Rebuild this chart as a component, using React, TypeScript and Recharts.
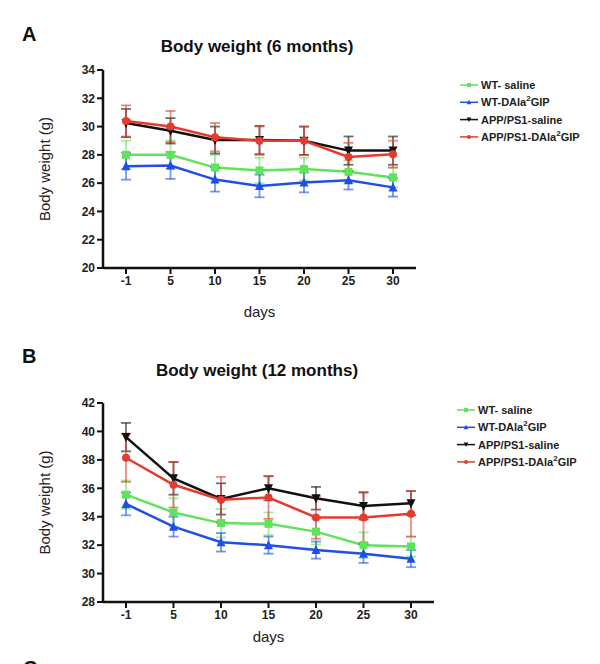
import { LineChart, Line, XAxis, YAxis, ErrorBar } from "recharts";

const days = ["-1", "5", "10", "15", "20", "25", "30"];

// 6 months
const wtSaline6 = [28.0, 28.0, 27.1, 26.9, 27.0, 26.8, 26.4];
const wtSaline6Err = [1.0, 1.0, 0.9, 0.9, 0.8, 0.8, 0.7];
const wtDala6 = [27.2, 27.25, 26.25, 25.8, 26.05, 26.2, 25.7];
const wtDala6Err = [0.95, 0.95, 0.85, 0.8, 0.7, 0.65, 0.65];
const appSaline6 = [30.25, 29.7, 29.05, 29.05, 29.0, 28.3, 28.3];
const appSaline6Err = [1.0, 0.9, 0.95, 1.0, 1.0, 1.0, 1.0];
const appDala6 = [30.4, 30.0, 29.25, 29.0, 29.0, 27.85, 28.05];
const appDala6Err = [1.1, 1.1, 1.0, 1.0, 1.0, 1.0, 0.95];

// 12 months
const wtSaline12 = [35.55, 34.3, 33.55, 33.5, 32.95, 32.0, 31.9];
const wtSaline12Err = [1.0, 1.0, 1.0, 0.8, 0.9, 0.9, 0.7];
const wtDala12 = [34.9, 33.3, 32.2, 32.0, 31.65, 31.4, 31.05];
const wtDala12Err = [0.8, 0.7, 0.65, 0.6, 0.6, 0.65, 0.6];
const appSaline12 = [39.6, 36.7, 35.25, 36.0, 35.3, 34.75, 34.95];
const appSaline12Err = [1.0, 1.15, 1.1, 0.85, 0.8, 0.95, 0.85];
const appDala12 = [38.15, 36.25, 35.2, 35.35, 33.95, 33.95, 34.2];
const appDala12Err = [1.7, 1.6, 1.6, 1.5, 1.5, 1.8, 1.6];

const ticks6 = [20, 22, 24, 26, 28, 30, 32, 34];
const ticks12 = [28, 30, 32, 34, 36, 38, 40, 42];

const FONT = "'Liberation Sans', Arial, sans-serif";

const series = [
  { key: "wtSaline", name: "WT- saline", color: "#5ee35a", shape: "square" },
  { key: "wtDala", name: "WT-DAla", sup: "2", after: "GIP", color: "#1f4fe6", shape: "tri" },
  { key: "appSaline", name: "APP/PS1-saline", color: "#111111", shape: "triDown" },
  { key: "appDala", name: "APP/PS1-DAla", sup: "2", after: "GIP", color: "#e53a2e", shape: "circle" },
];

const build = (a: number[], ae: number[], b: number[], be: number[], c: number[], ce: number[], d: number[], de: number[]) =>
  days.map((day, i) => ({
    day,
    wtSaline: a[i], wtSalineErr: ae[i],
    wtDala: b[i], wtDalaErr: be[i],
    appSaline: c[i], appSalineErr: ce[i],
    appDala: d[i], appDalaErr: de[i],
  }));

const data6 = build(wtSaline6, wtSaline6Err, wtDala6, wtDala6Err, appSaline6, appSaline6Err, appDala6, appDala6Err);
const data12 = build(wtSaline12, wtSaline12Err, wtDala12, wtDala12Err, appSaline12, appSaline12Err, appDala12, appDala12Err);

const Marker = ({ cx, cy, shape, color, s = 1 }: any) => {
  if (cx == null || cy == null) return null;
  if (shape === "square") return <rect x={cx - 4 * s} y={cy - 4 * s} width={8 * s} height={8 * s} fill={color} />;
  if (shape === "tri")
    return <polygon points={`${cx},${cy - 5 * s} ${cx - 4.5 * s},${cy + 4 * s} ${cx + 4.5 * s},${cy + 4 * s}`} fill={color} />;
  if (shape === "triDown")
    return <polygon points={`${cx},${cy + 5 * s} ${cx - 4.5 * s},${cy - 4 * s} ${cx + 4.5 * s},${cy - 4 * s}`} fill={color} />;
  return <circle cx={cx} cy={cy} r={4 * s} fill={color} />;
};

const YLabel = ({ viewBox }: any) => {
  const x = viewBox.x - 19;
  const y = viewBox.y + viewBox.height / 2;
  return (
    <text x={x} y={y} transform={`rotate(-90 ${x} ${y})`} textAnchor="middle" dominantBaseline="central"
      fontSize={15} fontFamily={FONT} fill="#222">
      Body weight (g)
    </text>
  );
};

const Legend = ({ left, top }: { left: number; top: number }) => (
  <svg width={150} height={72} style={{ position: "absolute", left, top }}>
    {series.map((s, i) => {
      const y = 8 + i * 17.3;
      return (
        <g key={s.key}>
          <line x1={2} x2={20} y1={y} y2={y} stroke={s.color} strokeWidth={1.5} />
          <Marker cx={11} cy={y} shape={s.shape} color={s.color} s={0.5} />
          <text x={23} y={y} dominantBaseline="central" fontSize={11} fontWeight="bold" fontFamily={FONT} fill="#222">
            {s.name}
            {s.sup && <tspan fontSize={8} dy={-4}>{s.sup}</tspan>}
            {s.after && <tspan dy={4}>{s.after}</tspan>}
          </text>
        </g>
      );
    })}
  </svg>
);

const Panel = ({ data, ticks, top, width, right, marginTop, height, pad, labelOffset }: any) => (
  <div style={{ position: "absolute", left: 0, top }}>
    <LineChart width={width} height={height} data={data}
      margin={{ top: marginTop, right, left: 63, bottom: 32 }}>
      <XAxis dataKey="day" axisLine={{ stroke: "#111", strokeWidth: 2.5 }} tickLine={{ stroke: "#111", strokeWidth: 2 }}
        tickSize={6} height={30} padding={{ left: pad, right: pad }}
        tick={{ fontSize: 12, fontWeight: "bold", fill: "#222", fontFamily: FONT }}
        label={{ value: "days", position: "bottom", offset: labelOffset, fontSize: 15, fill: "#222", fontFamily: FONT }} />
      <YAxis type="number" domain={[ticks[0], ticks[ticks.length - 1]]} ticks={ticks} interval={0} width={40}
        axisLine={{ stroke: "#111", strokeWidth: 2.5 }} tickLine={{ stroke: "#111", strokeWidth: 2 }} tickSize={6}
        tick={{ fontSize: 12, fontWeight: "bold", fill: "#222", fontFamily: FONT }}
        label={<YLabel />} />
      {series.map((s) => (
        <Line key={s.key} dataKey={s.key} stroke={s.color} strokeWidth={2.5} isAnimationActive={false}
          dot={(p: any) => <Marker key={`${s.key}-${p.index}`} cx={p.cx} cy={p.cy} shape={s.shape} color={s.color} />}
          activeDot={false}>
          <ErrorBar dataKey={`${s.key}Err`} direction="y" width={5} stroke={s.color} strokeOpacity={0.6} strokeWidth={1.8} />
        </Line>
      ))}
    </LineChart>
  </div>
);

const txt = (left: number, top: number, text: string, size: number, bold = true, center = false) => (
  <div style={{
    position: "absolute", left: center ? left - 200 : left, top, width: center ? 400 : undefined,
    textAlign: center ? "center" : "left", fontFamily: FONT, fontSize: size, fontWeight: bold ? "bold" : "normal",
    color: "#111", lineHeight: 1, whiteSpace: "nowrap",
  }}>{text}</div>
);

export default function App() {
  return (
    <div style={{ position: "absolute", left: 0, top: 0, width: 600, height: 664, overflow: "hidden", background: "#fff" }}>
      {txt(22, 24, "A", 20)}
      {txt(257, 38, "Body weight (6 months)", 17, true, true)}
      <Panel data={data6} ticks={ticks6} top={0} width={600} height={330} right={184} marginTop={70} pad={23} labelOffset={8} />
      <Legend left={458} top={77} />

      {txt(22, 346, "B", 20)}
      {txt(257, 362, "Body weight (12 months)", 17, true, true)}
      <Panel data={data12} ticks={ticks12} top={330} width={600} height={334} right={166} marginTop={73} pad={23} labelOffset={-1} />
      <Legend left={455} top={402} />

      {txt(23, 658, "C", 20)}
    </div>
  );
}
